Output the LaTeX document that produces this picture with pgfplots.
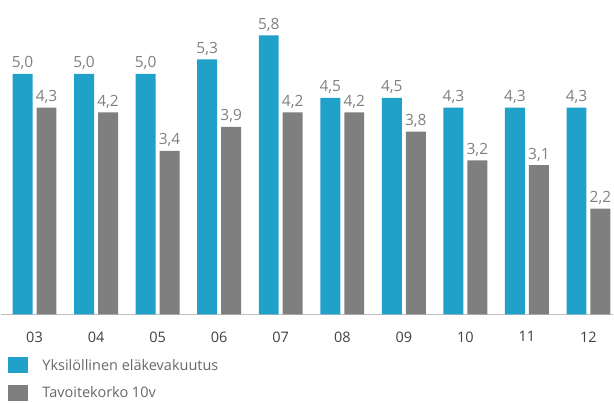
\documentclass[border=0pt]{standalone}
\usepackage{fontspec}
\setmainfont{Open Sans}
\usepackage{pgfplots}
\pgfplotsset{compat=1.18}
\definecolor{BarBlue}{HTML}{1FA1C9}
\definecolor{BarGray}{HTML}{7F7F7F}
\definecolor{TickText}{HTML}{404040}
\definecolor{ValText}{HTML}{808080}

\begin{document}
\begin{tikzpicture}
  \begin{axis}[
      set layers,
      at={(0pt,88pt)}, anchor=south west,
      scale only axis,
      width=614pt, height=315pt,
      xmin=-0.551, xmax=9.405,
      ymin=0, ymax=6.535,
      ybar=4pt,
      bar width=20pt,
      axis x line*=bottom,
      axis y line=none,
      x axis line style={draw=black!25, line width=1.2pt, -},
      xtick={0,...,9},
      xticklabels={03,04,05,06,07,08,09,10,11,12},
      major tick length=0pt,
      xticklabel style={font=\fontsize{14.5}{16}\selectfont, text=TickText, anchor=north, inner sep=0pt, yshift=-17pt},
      /pgf/number format/assume math mode=true,
      nodes near coords,
      every node near coord/.append style={font=\fontsize{15.5}{17}\selectfont, text=ValText, inner sep=1pt, yshift=3pt,
        /pgf/number format/.cd, fixed, fixed zerofill, precision=1, use comma},
      legend style={at={(rel axis cs:0.011,-0.135)}, anchor=north west, draw=none, fill=none,
        font=\fontsize{14.5}{16}\selectfont, text=ValText!80!black, legend cell align=left,
        inner sep=0pt, row sep=11pt,
        /tikz/every odd column/.append style={column sep=13pt}},
      legend image code/.code={\fill[#1,draw=none] (0pt,-8pt) rectangle (20pt,8pt);},
  ]
    \addplot[fill=BarBlue, draw=none] coordinates {
      (0,5.0) (1,5.0) (2,5.0) (3,5.3) (4,5.8) (5,4.5) (6,4.5) (7,4.3) (8,4.3) (9,4.3)};
    \addplot[fill=BarGray, draw=none] coordinates {
      (0,4.3) (1,4.2) (2,3.4) (3,3.9) (4,4.2) (5,4.2) (6,3.8) (7,3.2) (8,3.1) (9,2.2)};
    \legend{Yksilöllinen eläkevakuutus, Tavoitekorko 10v}
  \end{axis}
  \path (0pt,0pt) rectangle (614pt,403pt);
\end{tikzpicture}
\end{document}
